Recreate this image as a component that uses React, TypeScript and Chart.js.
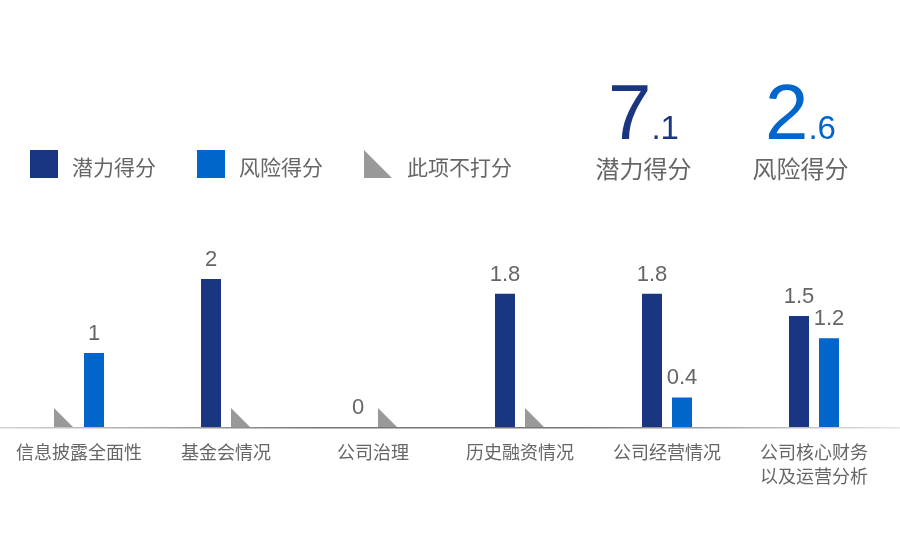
import { useEffect, useRef } from "react";
import { Chart, registerables, Plugin } from "chart.js";

Chart.register(...registerables);

// 数据
const categories: string[][] = [
  ["信息披露全面性"],
  ["基金会情况"],
  ["公司治理"],
  ["历史融资情况"],
  ["公司经营情况"],
  ["公司核心财务", "以及运营分析"],
];
// null = 此项不打分
const potentialScores: (number | null)[] = [null, 2, 0, 1.8, 1.8, 1.5];
const riskScores: (number | null)[] = [1, null, null, null, 0.4, 1.2];
const seriesNames = ["潜力得分", "风险得分"];
const notScoredName = "此项不打分";
const summaryScores = [7.1, 2.6];

const DARK = "#1a3683";
const BLUE = "#0066cc";
const GRAY = "#999999";
const TEXT = "#666666";
const CJK = '"Noto Sans CJK SC", "Liberation Sans", sans-serif';
const LATIN = '"Liberation Sans", Arial, sans-serif';

// 基线、三角形（不打分）、数值标签
const marksPlugin: Plugin<"bar"> = {
  id: "marks",
  beforeDatasetsDraw(chart) {
    const { ctx, chartArea } = chart;
    const y = chartArea.bottom + 0.75;
    const g = ctx.createLinearGradient(0, 0, chart.width, 0);
    g.addColorStop(0, "#d4d4d4");
    g.addColorStop(0.35, "#777777");
    g.addColorStop(0.65, "#777777");
    g.addColorStop(1, "#e4e4e4");
    ctx.save();
    ctx.strokeStyle = g;
    ctx.lineWidth = 1.5;
    ctx.beginPath();
    ctx.moveTo(0, y);
    ctx.lineTo(chart.width, y);
    ctx.stroke();
    ctx.restore();
  },
  afterDatasetsDraw(chart) {
    const { ctx } = chart;
    const base = chart.scales.y.getPixelForValue(0);
    ctx.save();
    chart.data.datasets.forEach((ds, di) => {
      const meta = chart.getDatasetMeta(di);
      meta.data.forEach((el: any, i) => {
        const v = ds.data[i] as number | null;
        const { x, y, width } = el.getProps(["x", "y", "width"], true);
        if (v == null) {
          const left = x - width / 2;
          const s = 19;
          ctx.fillStyle = GRAY;
          ctx.beginPath();
          ctx.moveTo(left, base - s);
          ctx.lineTo(left, base);
          ctx.lineTo(left + s, base);
          ctx.closePath();
          ctx.fill();
        } else {
          ctx.fillStyle = TEXT;
          ctx.font = `22px ${LATIN}`;
          ctx.textAlign = "center";
          ctx.textBaseline = "alphabetic";
          ctx.fillText(String(v), x, y - 13);
        }
      });
    });
    ctx.restore();
  },
};

function BarChart() {
  const canvasRef = useRef<HTMLCanvasElement | null>(null);

  useEffect(() => {
    const el = canvasRef.current;
    if (!el) return;
    const chart = new Chart(el, {
      type: "bar",
      data: {
        labels: categories,
        datasets: [
          {
            label: seriesNames[0],
            data: potentialScores,
            backgroundColor: DARK,
            categoryPercentage: 0.408,
            barPercentage: 0.667,
          },
          {
            label: seriesNames[1],
            data: riskScores,
            backgroundColor: BLUE,
            categoryPercentage: 0.408,
            barPercentage: 0.667,
          },
        ],
      },
      options: {
        animation: false,
        responsive: true,
        maintainAspectRatio: false,
        events: [],
        layout: { padding: { left: 5.5, right: 12.5, top: 242, bottom: 37 } },
        plugins: { legend: { display: false }, tooltip: { enabled: false } },
        scales: {
          x: {
            grid: { display: false, drawTicks: false },
            border: { display: false },
            ticks: {
              color: TEXT,
              padding: 13,
              maxRotation: 0,
              autoSkip: false,
              font: { size: 18, family: CJK, lineHeight: 24 / 18 },
            },
          },
          y: { display: false, min: 0, max: 2.5 },
        },
      },
      plugins: [marksPlugin],
    });
    return () => chart.destroy();
  }, []);

  return (
    <div style={{ position: "absolute", left: 0, top: 0, width: 900, height: 538 }}>
      <canvas ref={canvasRef} />
    </div>
  );
}

const legendText: React.CSSProperties = {
  position: "absolute",
  top: 156,
  fontFamily: CJK,
  fontSize: 21,
  lineHeight: "21px",
  color: TEXT,
  whiteSpace: "nowrap",
};

function Legend() {
  return (
    <>
      <div style={{ position: "absolute", left: 30, top: 150, width: 28, height: 28, background: DARK }} />
      <div style={{ ...legendText, left: 72 }}>{seriesNames[0]}</div>
      <div style={{ position: "absolute", left: 197, top: 150, width: 28, height: 28, background: BLUE }} />
      <div style={{ ...legendText, left: 239 }}>{seriesNames[1]}</div>
      <div
        style={{
          position: "absolute",
          left: 364,
          top: 150,
          width: 28,
          height: 28,
          background: GRAY,
          clipPath: "polygon(0 0, 0 100%, 100% 100%)",
        }}
      />
      <div style={{ ...legendText, left: 407 }}>{notScoredName}</div>
    </>
  );
}

function Score({ value, name, color, center }: { value: number; name: string; color: string; center: number }) {
  const [whole, frac] = value.toFixed(1).split(".");
  return (
    <div style={{ position: "absolute", left: center - 70, width: 140, top: 0, textAlign: "center" }}>
      <div
        style={{
          position: "absolute",
          left: 0,
          width: 140,
          top: 72,
          fontFamily: LATIN,
          fontSize: 78,
          lineHeight: "80px",
          color,
          whiteSpace: "nowrap",
        }}
      >
        {whole}
        <span style={{ fontSize: 33, lineHeight: 1 }}>.{frac}</span>
      </div>
      <div
        style={{
          position: "absolute",
          left: 0,
          width: 140,
          top: 156,
          fontFamily: CJK,
          fontSize: 24,
          lineHeight: "24px",
          color: TEXT,
          whiteSpace: "nowrap",
        }}
      >
        {name}
      </div>
    </div>
  );
}

export default function App() {
  return (
    <div style={{ position: "absolute", left: 0, top: 0, width: 900, height: 538, background: "#fff", overflow: "hidden" }}>
      <BarChart />
      <Legend />
      <Score value={summaryScores[0]} name={seriesNames[0]} color={DARK} center={643.5} />
      <Score value={summaryScores[1]} name={seriesNames[1]} color={BLUE} center={800.5} />
    </div>
  );
}
